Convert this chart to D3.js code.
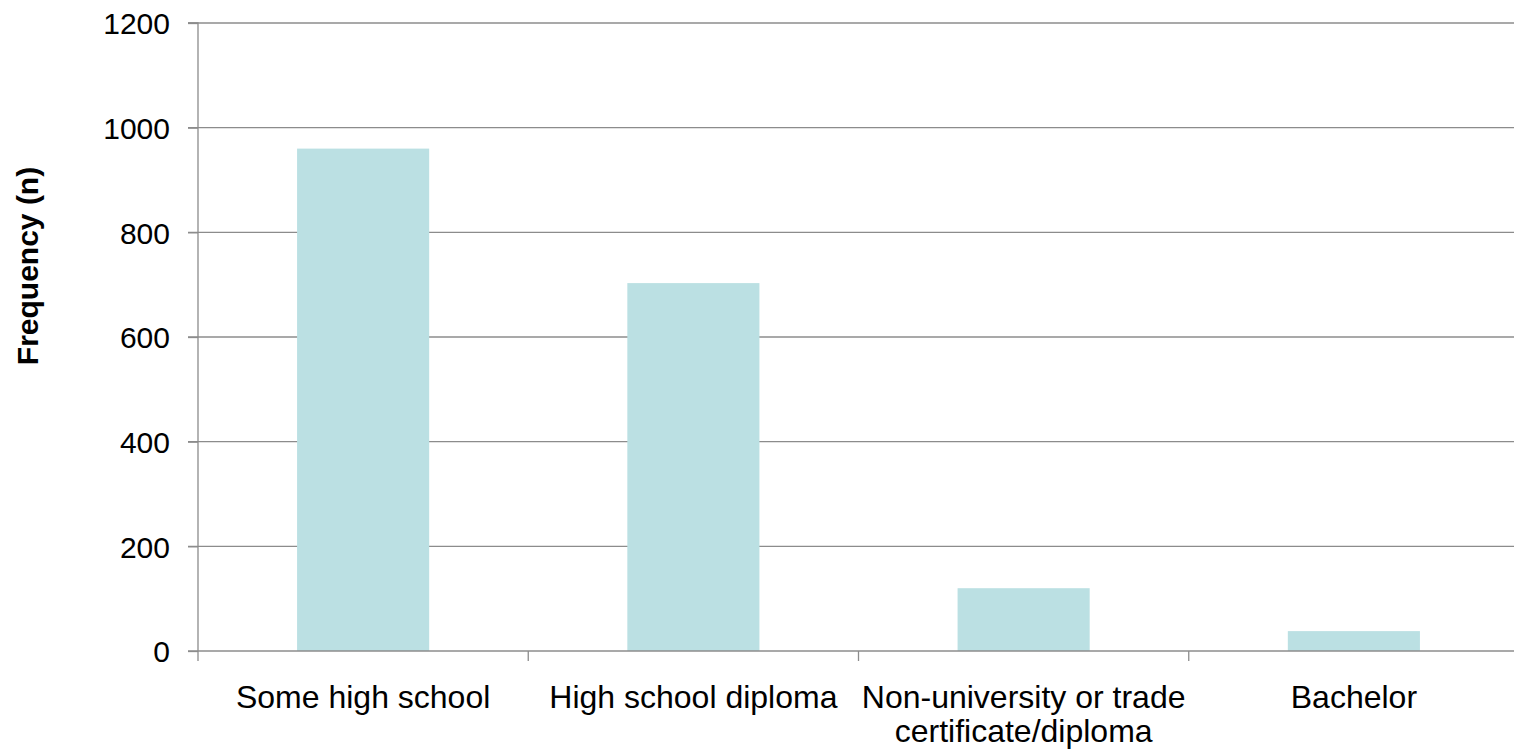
<!DOCTYPE html>
<html>
<head>
<meta charset="utf-8">
<script src="https://cdn.jsdelivr.net/npm/d3@7"></script>
<style>
  html, body { margin: 0; padding: 0; background: #fff; }
  svg { display: block; font-family: "Liberation Sans", Arial, sans-serif; }
</style>
</head>
<body>
<svg id="chart" width="1514" height="751"></svg>
<script>
// Education level counts
const categories = [
  ["Some high school"],
  ["High school diploma"],
  ["Non-university or trade", "certificate/diploma"],
  ["Bachelor"]
];
const frequencies = [960, 703, 120, 38];
const yTicks = [0, 200, 400, 600, 800, 1000, 1200];
const yTitle = "Frequency (n)";

const svg = d3.select("#chart");
const W = 1514;
const plotLeft = 198, plotRight = 1519, plotTop = 23, plotBottom = 651;

const keys = categories.map(c => c.join(" "));
const x = d3.scaleBand()
  .domain(keys)
  .range([plotLeft, plotRight])
  .paddingInner(0.6)
  .paddingOuter(0.3);

const y = d3.scaleLinear().domain([0, 1200]).range([plotBottom, plotTop]);

const gridColor = "#8c8c8c";

// horizontal gridlines
svg.append("g")
  .selectAll("line")
  .data(yTicks.filter(d => d > 0))
  .join("line")
  .attr("x1", plotLeft - 10)
  .attr("x2", W)
  .attr("y1", d => y(d))
  .attr("y2", d => y(d))
  .attr("stroke", gridColor)
  .attr("stroke-width", 1.3);

// bars
svg.append("g")
  .selectAll("rect")
  .data(frequencies)
  .join("rect")
  .attr("x", (d, i) => x(keys[i]))
  .attr("width", x.bandwidth())
  .attr("y", d => y(d))
  .attr("height", d => plotBottom - y(d))
  .attr("fill", "#bbe0e3");

// y axis
const yAxis = svg.append("g")
  .attr("transform", `translate(${plotLeft},0)`)
  .call(d3.axisLeft(y).tickValues(yTicks).tickSize(10).tickPadding(18).tickFormat(d3.format("d")));
yAxis.select(".domain").attr("stroke", gridColor).attr("stroke-width", 1.3)
  .attr("d", `M-10,${plotTop}H0V${plotBottom}`);
yAxis.selectAll(".tick line").attr("stroke", gridColor).attr("stroke-width", 1.3);
yAxis.selectAll(".tick text")
  .attr("fill", "#000")
  .attr("dy", "0.36em")
  .style("font-size", "30px")
  .style("font-family", "Liberation Sans, Arial, sans-serif");

// x axis baseline with boundary ticks between categories
const step = x.step();
const boundaries = d3.range(keys.length + 1).map(i => plotLeft + i * step);
svg.append("line")
  .attr("x1", plotLeft - 10).attr("x2", W)
  .attr("y1", plotBottom).attr("y2", plotBottom)
  .attr("stroke", gridColor).attr("stroke-width", 1.3);
svg.append("g")
  .selectAll("line")
  .data(boundaries.filter(b => b < W))
  .join("line")
  .attr("x1", d => d).attr("x2", d => d)
  .attr("y1", plotBottom).attr("y2", plotBottom + 10)
  .attr("stroke", gridColor).attr("stroke-width", 1.3);

// category labels
const labels = svg.append("g")
  .selectAll("text")
  .data(categories)
  .join("text")
  .attr("text-anchor", "middle")
  .attr("fill", "#000")
  .style("font-size", "32px")
  .attr("transform", (d, i) => `translate(${x(keys[i]) + x.bandwidth() / 2},708)`);
labels.selectAll("tspan")
  .data(d => d)
  .join("tspan")
  .attr("x", 0)
  .attr("dy", (d, i) => i === 0 ? 0 : 34)
  .text(d => d);

// y axis title
svg.append("text")
  .attr("transform", "translate(38,266) rotate(-90)")
  .attr("text-anchor", "middle")
  .attr("font-weight", "bold")
  .attr("fill", "#000")
  .style("font-size", "30px")
  .text(yTitle);
</script>
</body>
</html>
